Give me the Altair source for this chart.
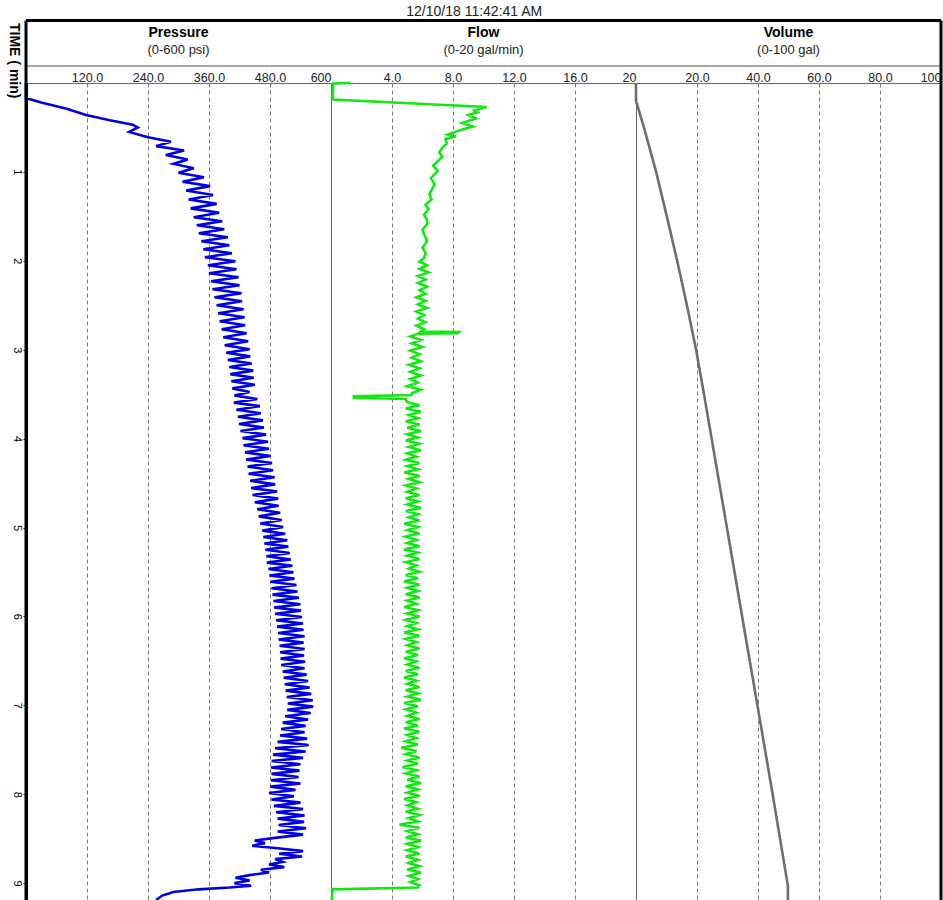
import altair as alt
import pandas as pd

FONT = "Liberation Sans"

# ---------------- data ----------------
DATE_TEXT = "12/10/18 11:42:41 AM"
TRACK_TITLES = ["Pressure", "Flow", "Volume"]
TRACK_SUBTITLES = ["(0-600 psi)", "(0-20 gal/min)", "(0-100 gal)"]
TRACK_DOMAINS = [[0, 600], [0, 20], [0, 100]]
TRACK_TICKS = [[120, 240, 360, 480, 600], [4, 8, 12, 16, 20], [20, 40, 60, 80, 100]]
TIME_TICKS = [1, 2, 3, 4, 5, 6, 7, 8, 9]
TIME_DOMAIN = [0, 9.19]

# Pressure (psi)
P_RAMP_T = [0.00, 0.17, 0.22, 0.29, 0.36, 0.42, 0.47, 0.50, 0.55, 0.61]
P_RAMP_V = [0, 0, 30, 80, 118, 165, 210, 220, 203, 240]
P_A_START, P_A_STEP = 0.66, 0.05
P_A_V = [285, 256, 311, 275, 318, 290, 330, 300, 350, 308, 362, 315, 368, 320, 375, 324, 380, 330]
P_B_START, P_B_STEP = 1.555, 0.045
P_B_V = [386, 336, 390, 340, 397, 345, 400, 349, 405, 352, 412, 358, 414, 360, 418, 364, 420,
         367, 424, 371, 425, 375, 428, 378, 430, 381, 431, 385, 434, 388, 437, 391, 440]
P_C_START, P_C_STEP = 3.035, 0.04
P_C_V = [394, 441, 397, 444, 400, 447, 402, 448, 404, 450, 406, 440, 410, 455, 409, 460, 414,
         462, 417, 466, 419, 468, 422, 472, 426, 476, 428, 478, 431, 481, 433, 484, 436, 486,
         438, 489, 441, 490, 443, 494, 446, 496, 450, 497, 455, 500, 458, 503, 461, 506]
P_D_START, P_D_STEP = 5.035, 0.036
P_D_V = [465, 510, 467, 514, 469, 516, 471, 519, 473, 521, 474, 524, 477, 526, 479, 528, 481,
         532, 483, 534, 485, 537, 487, 540, 488, 541, 490, 543, 492, 545, 494, 546, 496, 548,
         497, 546, 499, 548, 500, 547, 501, 549, 502, 548, 505, 552, 507, 555, 509, 558, 511,
         561, 513, 564, 515, 565, 514, 560, 510, 555, 505, 550, 502, 548, 500, 553, 495, 556,
         490, 550, 486, 545, 483, 540, 482, 538, 483, 536, 482, 540, 481, 530, 478, 527, 483,
         540, 488, 545, 492, 548, 495, 547, 497, 551, 495, 545, 490]
P_END_T = [8.52, 8.55, 8.58, 8.61, 8.64, 8.67, 8.70, 8.73, 8.76, 8.79, 8.82, 8.85, 8.88,
           8.91, 8.94, 8.97, 9.00, 9.03, 9.05, 9.07, 9.10, 9.14, 9.19]
P_END_V = [450, 470, 445, 500, 545, 498, 543, 490, 505, 478, 508, 462, 478,
           440, 412, 440, 410, 443, 400, 340, 290, 268, 256]

# Flow (gal/min)
F_START_T = [0.0, 0.005, 0.185, 0.27, 0.31, 0.33, 0.36, 0.40, 0.45, 0.49,
             0.54, 0.58, 0.60, 0.63, 0.68, 0.73, 0.78, 0.83, 0.88, 0.93,
             0.99, 1.07, 1.14, 1.25, 1.31, 1.37, 1.42, 1.48, 1.54, 1.59,
             1.65, 1.70, 1.78, 1.85, 1.91, 1.97]
F_START_V = [1.3, 0.15, 0.1, 10.2, 9.4, 9.6, 9.0, 9.5, 8.6, 9.3,
             8.3, 7.65, 8.2, 7.5, 7.6, 7.3, 7.1, 7.3, 7.0, 6.7,
             7.0, 6.55, 6.8, 6.45, 6.6, 6.2, 6.4, 6.1, 6.3, 6.3,
             6.0, 6.1, 6.3, 6.0, 6.2, 6.1]
F_A_START, F_A_STEP = 2.01, 0.04
F_A_V = [5.8, 6.3, 5.8, 6.4, 5.7, 6.2, 5.7, 6.3, 5.8, 6.2, 5.6, 6.2, 5.7, 6.3, 5.6, 6.1, 5.7, 6.2, 5.6, 6.1]
F_SPIKE1_T = [2.795, 2.80, 2.815, 2.82]
F_SPIKE1_V = [5.9, 8.4, 8.3, 5.7]
F_B_START, F_B_STEP = 2.85, 0.04
F_B_V = [5.2, 5.9, 5.3, 6.0, 5.2, 5.8, 5.3, 5.9, 5.1, 5.8, 5.2, 5.9, 5.2, 5.7, 5.0, 5.9, 5.3]
F_SPIKE2_T = [3.51, 3.525, 3.54, 3.555]
F_SPIKE2_V = [5.3, 1.5, 1.5, 4.9]
F_C_START, F_C_STEP = 3.59, 0.036
F_C_V = [5.0, 5.8, 4.9, 5.9, 5.1, 5.7, 4.9, 5.8, 5.0, 5.9, 5.0, 5.7, 4.9, 5.8, 5.1, 5.9, 5.0, 5.6, 4.9, 5.8,
         5.0, 5.7, 4.8, 5.8, 5.1, 5.8, 4.9, 5.6, 5.0, 5.8, 4.9, 5.7, 5.0, 5.9, 4.9, 5.7, 5.1, 5.8, 4.8, 5.7,
         5.0, 5.8, 4.9, 5.6, 5.0, 5.8, 4.8, 5.7, 5.0, 5.8, 4.9, 5.6, 5.1, 5.8, 4.9, 5.7, 4.8, 5.8, 5.0, 5.7,
         4.9, 5.8, 5.0, 5.6, 4.8, 5.7, 5.0, 5.8, 4.9, 5.6, 5.0, 5.7, 4.8, 5.8, 4.9, 5.6, 5.0, 5.8, 4.9, 5.7,
         4.8, 5.6, 5.0, 5.8, 4.9, 5.7, 4.8, 5.6, 5.0, 5.8, 4.9, 5.7, 5.0, 5.9, 4.8, 5.7, 4.9, 5.6, 5.0, 5.8,
         4.9, 5.7, 4.8, 5.8, 5.0, 5.6, 4.9, 5.7, 4.6, 5.6, 4.9, 5.8, 5.0, 5.7, 4.7, 5.6, 4.9, 5.8, 5.0, 5.9,
         4.9, 5.7, 5.0, 5.8, 4.8, 5.6, 5.0, 5.7, 4.9, 5.8, 5.1, 5.7, 4.5, 5.8, 5.0, 5.7, 4.9, 5.9, 5.0, 5.7,
         5.0, 5.8, 4.9, 5.7, 5.1, 5.8, 5.0, 5.9, 5.1, 5.7, 5.2, 5.8]
F_END_T = [9.05, 9.07, 9.19]
F_END_V = [5.7, 0.1, 0.05]

# Volume (gal)
V_T = [0, 0.2, 0.5, 1, 1.5, 2, 2.5, 3, 3.5, 4, 5, 6, 7, 8, 9.03, 9.19]
V_V = [0, 0, 2.6, 6.6, 10.1, 13.5, 16.7, 19.7, 22.3, 24.8, 29.8, 34.8, 39.8, 44.8, 49.8, 49.8]


def build(pieces):
    ts, vs = [], []
    for piece in pieces:
        if piece[0] == "step":
            _, t0, dt, vals = piece
            ts += [round(t0 + i * dt, 4) for i in range(len(vals))]
            vs += list(vals)
        else:
            _, times, vals = piece
            ts += list(times)
            vs += list(vals)
    return pd.DataFrame({"t": ts, "v": vs})


p_df = build([("pts", P_RAMP_T, P_RAMP_V), ("step", P_A_START, P_A_STEP, P_A_V),
              ("step", P_B_START, P_B_STEP, P_B_V), ("step", P_C_START, P_C_STEP, P_C_V),
              ("step", P_D_START, P_D_STEP, P_D_V), ("pts", P_END_T, P_END_V)])
f_df = build([("pts", F_START_T, F_START_V), ("step", F_A_START, F_A_STEP, F_A_V),
              ("pts", F_SPIKE1_T, F_SPIKE1_V), ("step", F_B_START, F_B_STEP, F_B_V),
              ("pts", F_SPIKE2_T, F_SPIKE2_V), ("step", F_C_START, F_C_STEP, F_C_V),
              ("pts", F_END_T, F_END_V)])
v_df = build([("pts", V_T, V_V)])

# ---------------- layout ----------------
W, H = 305, 817
TOP_RULE_Y = -62.5
DIV_Y = -17
COLORS = ["#0000e0", "#16e616", "#6e6e6e"]
one = pd.DataFrame({"k": [0]})


def track(i, df):
    end = TRACK_DOMAINS[i][1]
    x_axis = alt.Axis(orient="top", values=TRACK_TICKS[i], title=None, ticks=False, domain=False,
                      labelExpr=f"datum.value == {end} ? '{end}' : format(datum.value, '.1f')",
                      labelFlush=True, labelPadding=-1, labelFontSize=12.5, labelColor="#222",
                      labelFont=FONT, grid=True, gridDash=[4, 3], gridColor="#7a7a7a", gridWidth=1)
    if i == 0:
        y_axis = alt.Axis(values=TIME_TICKS, format="d", labelAngle=90, labelFontSize=11,
                          labelFont=FONT, labelPadding=1, tickSize=3, tickColor="black",
                          domainColor="black", domainWidth=3, grid=False,
                          title="TIME ( min)", titleAngle=90, titleAlign="left",
                          titleBaseline="middle", titleX=-13, titleY=TOP_RULE_Y + 2,
                          titleFont=FONT, titleFontSize=14, titleFontWeight="bold")
    else:
        y_axis = None
    line = alt.Chart(df).mark_line(color=COLORS[i], strokeWidth=2.6).encode(
        x=alt.X("v:Q", scale=alt.Scale(domain=TRACK_DOMAINS[i], nice=False, zero=False), axis=x_axis),
        y=alt.Y("t:Q", scale=alt.Scale(domain=TIME_DOMAIN, reverse=True, nice=False, zero=False),
                axis=y_axis),
        order=alt.Order("t:Q"),
    )
    layers = [line]
    top_rule = alt.Chart(one).mark_rule(color="black", strokeWidth=3).encode(
        x=alt.value(0), x2=alt.value(W), y=alt.value(TOP_RULE_Y))
    div_rule = alt.Chart(one).mark_rule(color="#8a8a8a", strokeWidth=1.5).encode(
        x=alt.value(0), x2=alt.value(W), y=alt.value(DIV_Y))
    layers += [top_rule, div_rule]
    if i == 0:
        layers.append(alt.Chart(one).mark_rule(color="black", strokeWidth=3).encode(
            x=alt.value(0), y=alt.value(TOP_RULE_Y), y2=alt.value(H)))
    if i == 2:
        layers.append(alt.Chart(one).mark_rule(color="black", strokeWidth=3).encode(
            x=alt.value(W), y=alt.value(TOP_RULE_Y), y2=alt.value(H)))
    return alt.layer(*layers).properties(
        width=W, height=H,
        title=alt.TitleParams(TRACK_TITLES[i], subtitle=TRACK_SUBTITLES[i], anchor="middle",
                              frame="group", font=FONT, fontSize=14, fontWeight="bold",
                              color="black", subtitleFont=FONT, subtitleFontSize=13,
                              subtitleColor="#222", subtitlePadding=4, offset=-38),
    )


chart = alt.hconcat(track(0, p_df), track(1, f_df), track(2, v_df), spacing=0,
                    bounds="flush").properties(
    title=alt.TitleParams(DATE_TEXT, font=FONT, fontSize=14, fontWeight="normal",
                          color="#222", anchor="middle", offset=0),
    padding={"left": 5, "top": 4, "right": 0, "bottom": 0},
).configure_view(stroke="#666", strokeWidth=1)

chart.save("out.html", embed_options={"renderer": "svg", "actions": False})
